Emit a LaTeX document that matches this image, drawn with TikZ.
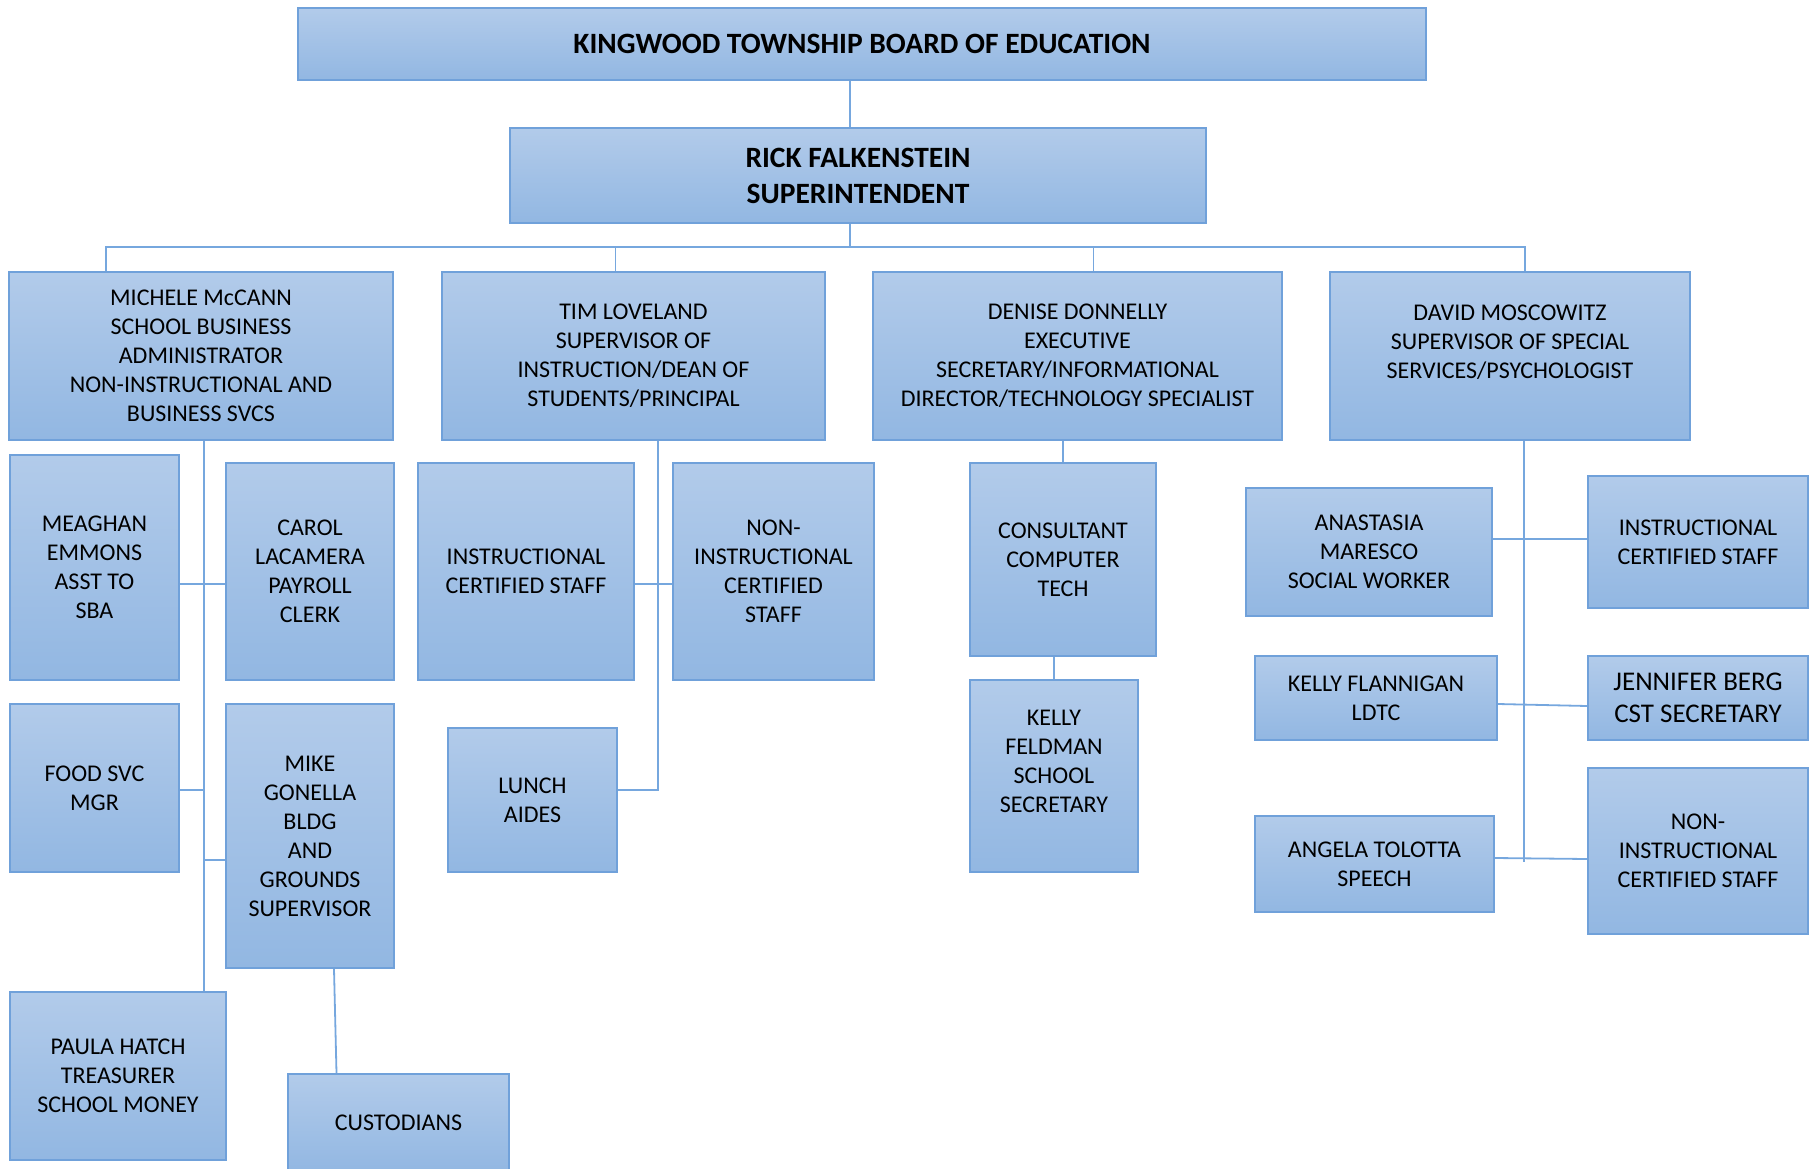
\documentclass[tikz,border=0pt]{standalone}
\usepackage{fontspec}
\setmainfont{Carlito}
\usetikzlibrary{calc}
\definecolor{BoxTop}{RGB}{178,203,234}
\definecolor{BoxBottom}{RGB}{146,183,226}
\definecolor{BoxLine}{RGB}{112,161,218}
\definecolor{Link}{RGB}{118,167,222}
\tikzset{
  box/.style={draw=BoxLine, line width=2pt, top color=BoxTop, bottom color=BoxBottom,
    rectangle, inner sep=0pt, align=center, font=\fontsize{24}{29}\selectfont},
  head/.style={box, font=\fontsize{29.5}{36}\selectfont\bfseries},
  link/.style={draw=Link, line width=1.8pt}
}

\begin{document}
\begin{tikzpicture}[x=1pt,y=-1pt]
        \useasboundingbox (0,0) rectangle (1809,1169);
        % top of the chart
        \node[head, minimum width=1128pt, minimum height=72pt] (board) at (862,44) {KINGWOOD TOWNSHIP BOARD OF EDUCATION};
        \node[head, minimum width=696pt, minimum height=95pt] (supt) at (858,175.5) {RICK FALKENSTEIN\\SUPERINTENDENT};
        % second row
        \node[box, minimum width=384pt, minimum height=168pt] (mccann) at (201,356) {MICHELE McCANN\\SCHOOL BUSINESS\\ADMINISTRATOR\\NON-INSTRUCTIONAL AND\\BUSINESS SVCS};
        \node[box, minimum width=383pt, minimum height=168pt] (loveland) at (633.5,356) {TIM LOVELAND\\SUPERVISOR OF\\INSTRUCTION/DEAN OF\\STUDENTS/PRINCIPAL};
        \node[box, minimum width=409pt, minimum height=168pt] (donnelly) at (1077.5,356) {DENISE DONNELLY\\EXECUTIVE\\SECRETARY/INFORMATIONAL\\DIRECTOR/TECHNOLOGY SPECIALIST};
        \node[box, minimum width=360pt, minimum height=168pt] (moscowitz) at (1510,356) {DAVID MOSCOWITZ\\SUPERVISOR OF SPECIAL\\SERVICES/PSYCHOLOGIST\\~};
        % business office
        \node[box, minimum width=169pt, minimum height=225pt] (emmons) at (94.5,567.5) {MEAGHAN\\EMMONS\\ASST TO\\SBA};
        \node[box, minimum width=168pt, minimum height=217pt] (lacamera) at (310,571.5) {CAROL\\LACAMERA\\PAYROLL\\CLERK};
        \node[box, minimum width=169pt, minimum height=168pt] (foodsvc) at (94.5,788) {FOOD SVC\\MGR};
        \node[box, minimum width=168pt, minimum height=264pt] (gonella) at (310,836) {MIKE\\GONELLA\\BLDG\\AND\\GROUNDS\\SUPERVISOR};
        \node[box, minimum width=216pt, minimum height=168pt] (hatch) at (118,1076) {PAULA HATCH\\TREASURER\\SCHOOL MONEY};
        \node[box, minimum width=221pt, minimum height=98pt] (custodians) at (398.5,1123) {CUSTODIANS};
        % instruction
        \node[box, minimum width=216pt, minimum height=217pt] (instrA) at (526,571.5) {INSTRUCTIONAL\\CERTIFIED STAFF};
        \node[box, minimum width=201pt, minimum height=217pt] (noninstrA) at (773.5,571.5) {NON-\\INSTRUCTIONAL\\CERTIFIED\\STAFF};
        \node[box, minimum width=169pt, minimum height=144pt] (lunch) at (532.5,800) {LUNCH\\AIDES};
        % technology
        \node[box, minimum width=186pt, minimum height=193pt] (consultant) at (1063,559.5) {CONSULTANT\\COMPUTER\\TECH};
        \node[box, minimum width=168pt, minimum height=192pt] (feldman) at (1054,776) {KELLY\\FELDMAN\\SCHOOL\\SECRETARY\\~};
        % special services
        \node[box, minimum width=246pt, minimum height=128pt] (maresco) at (1369,552) {ANASTASIA\\MARESCO\\SOCIAL WORKER};
        \node[box, minimum width=242pt, minimum height=84pt] (flannigan) at (1376,698) {KELLY FLANNIGAN\\LDTC};
        \node[box, minimum width=239pt, minimum height=96pt] (tolotta) at (1374.5,864) {ANGELA TOLOTTA\\SPEECH};
        \node[box, minimum width=220pt, minimum height=132pt] (instrB) at (1698,542) {INSTRUCTIONAL\\CERTIFIED STAFF};
        \node[box, minimum width=220pt, minimum height=84pt, font=\fontsize{27}{32}\selectfont] (berg) at (1698,698) {JENNIFER BERG\\CST SECRETARY};
        \node[box, minimum width=220pt, minimum height=166pt] (noninstrB) at (1698,851) {NON-\\INSTRUCTIONAL\\CERTIFIED STAFF};

        % connectors
        \coordinate (bus) at (850,247);
        \draw[link] (board.south -| bus) -- (supt.north -| bus);
        \draw[link] (supt.south -| bus) -- (bus);
        \draw[link] ([xshift=-95pt]mccann.north) |- (bus);
        \draw[link] ([xshift=15pt]moscowitz.north) |- (bus);
        \draw[link] ([xshift=-18pt]loveland.north) -- ([xshift=-18pt]loveland.north |- bus);
        \draw[link] ([xshift=16pt]donnelly.north) -- ([xshift=16pt]donnelly.north |- bus);
        % business office
        \draw[link] ([xshift=3pt]mccann.south) -- ([xshift=3pt]mccann.south |- hatch.north);
        \draw[link] ([yshift=-16.5pt]emmons.east) -- ([yshift=-16.5pt]emmons.east -| lacamera.west);
        \draw[link] ([yshift=-2pt]foodsvc.east) -- ([yshift=-2pt]foodsvc.east -| 204,0);
        \draw[link] ([yshift=-24pt]gonella.west) -- ([yshift=-24pt]gonella.west -| 204,0);
        \draw[link] ([xshift=24pt]gonella.south) -- ([xshift=-62pt]custodians.north);
        % instruction
        \draw[link] ([xshift=24.5pt]loveland.south) -- ([xshift=24.5pt]loveland.south |- 0,791);
        \draw[link] ([yshift=-12.5pt]instrA.east) -- ([yshift=-12.5pt]instrA.east -| noninstrA.west);
        \draw[link] ([yshift=10pt]lunch.east) -- ([yshift=10pt]lunch.east -| 658,0);
        % technology
        \draw[link] (consultant.north) -- (consultant.north |- donnelly.south);
        \draw[link] (feldman.north |- consultant.south) -- (feldman.north);
        % special services
        \draw[link] ([xshift=14pt]moscowitz.south) -- ([xshift=14pt]moscowitz.south |- 0,862);
        \draw[link] ([yshift=13pt]maresco.east) -- ([yshift=13pt]maresco.east -| instrB.west);
        \draw[link] ([yshift=-6pt]flannigan.east) -- ([yshift=-8pt]berg.west);
        \draw[link] ([yshift=6pt]tolotta.east) -- ([yshift=-8pt]noninstrB.west);
\end{tikzpicture}
\end{document}
